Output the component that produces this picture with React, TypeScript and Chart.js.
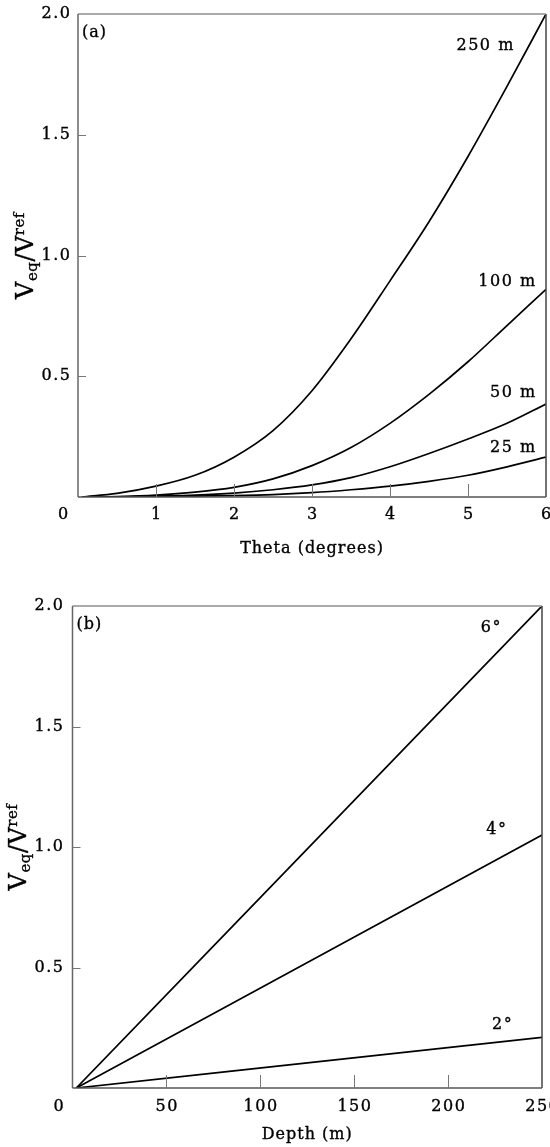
import { useEffect, useRef } from "react";
import { Chart, registerables } from "chart.js";
Chart.register(...registerables);

// ---------- Panel (a): Veq/Vref vs theta, one curve per depth ----------
const thetaDeg = [0.05, 0.5, 1, 1.5, 2, 2.5, 3, 3.5, 4, 4.5, 5, 5.5, 6];
const veq250m = [0, 0.015, 0.045, 0.09, 0.165, 0.275, 0.44, 0.655, 0.895, 1.14, 1.41, 1.7, 2.0];
const veq100m = [0, 0.002, 0.008, 0.02, 0.04, 0.075, 0.13, 0.205, 0.305, 0.425, 0.56, 0.71, 0.86];
const veq50m = [0, 0.001, 0.004, 0.008, 0.016, 0.03, 0.05, 0.08, 0.125, 0.18, 0.24, 0.305, 0.385];
const veq25m = [0, 0.0005, 0.002, 0.004, 0.006, 0.01, 0.018, 0.03, 0.045, 0.065, 0.09, 0.125, 0.165];
const depthNames = ["250 m", "100 m", "50 m", "25 m"];
const thetaTicks = [0, 1, 2, 3, 4, 5, 6];

// ---------- Panel (b): Veq/Vref vs depth, one line per angle ----------
const depthM = [2, 250];
const veq6deg = [0, 2.0];
const veq4deg = [0, 1.05];
const veq2deg = [0, 0.21];
const angleNames = ["6°", "4°", "2°"];
const depthTicks = [0, 50, 100, 150, 200, 250];

const ratioTicks = [0.5, 1.0, 1.5, 2.0];

const FONT = "'DejaVu Serif', 'Liberation Serif', serif";

type Lbl = { text: string; x: number; y: number; align: CanvasTextAlign };
type Spec = {
  xTicks: number[];
  yTicks: number[];
  xTitle: string;
  tag: string;
  labels: Lbl[];
  yTitleX: number;
  yTickGap: number;
  zeroShift: number;
  xLabelDy: number;
  xTitleDy: number;
};

function txt(ctx: CanvasRenderingContext2D, s: string, x: number, y: number) {
  ctx.fillText(s, x, y);
  ctx.strokeText(s, x, y);
}

function drawYTitle(ctx: CanvasRenderingContext2D, bx: number, cy: number) {
  const parts = [
    { t: "V", s: 24, dy: 0 },
    { t: "eq", s: 15, dy: 4 },
    { t: "/V", s: 24, dy: 0 },
    { t: "ref", s: 15, dy: -9 },
  ];
  ctx.save();
  ctx.translate(bx, cy);
  ctx.rotate(-Math.PI / 2);
  (ctx as any).letterSpacing = "0.5px";
  ctx.textAlign = "left";
  ctx.textBaseline = "alphabetic";
  let total = 0;
  const widths = parts.map((p) => {
    ctx.font = `${p.s}px ${FONT}`;
    const w = ctx.measureText(p.t).width;
    total += w;
    return w;
  });
  let x = -total / 2;
  parts.forEach((p, i) => {
    ctx.font = `${p.s}px ${FONT}`;
    txt(ctx, p.t, x, p.dy);
    x += widths[i];
  });
  ctx.restore();
}

function decor(spec: Spec) {
  return {
    id: "decor",
    afterDraw(chart: any) {
      const { ctx, chartArea: a, scales } = chart;
      const xs = scales.x;
      const ys = scales.y;
      ctx.save();
      // frame
      ctx.lineCap = "butt";
      ctx.strokeStyle = "#aaaaaa";
      ctx.lineWidth = 2;
      ctx.beginPath();
      ctx.moveTo(a.left, a.top);
      ctx.lineTo(a.right, a.top);
      ctx.stroke();
      ctx.strokeStyle = "#666666";
      ctx.lineWidth = 1.5;
      ctx.beginPath();
      ctx.moveTo(a.left, a.top);
      ctx.lineTo(a.left, a.bottom);
      ctx.stroke();
      ctx.strokeStyle = "#444444";
      ctx.beginPath();
      ctx.moveTo(a.right, a.top);
      ctx.lineTo(a.right, a.bottom);
      ctx.stroke();
      ctx.strokeStyle = "#555555";
      ctx.beginPath();
      ctx.moveTo(a.left, a.bottom);
      ctx.lineTo(a.right, a.bottom);
      ctx.stroke();

      // inner tick marks
      ctx.strokeStyle = "#777777";
      ctx.lineWidth = 1;
      spec.xTicks.slice(1, -1).forEach((v) => {
        const px = Math.round(xs.getPixelForValue(v)) + 0.5;
        ctx.beginPath();
        ctx.moveTo(px, a.bottom);
        ctx.lineTo(px, a.bottom - 13);
        ctx.stroke();
      });
      spec.yTicks.slice(0, -1).forEach((v) => {
        const py = Math.round(ys.getPixelForValue(v)) + 0.5;
        ctx.beginPath();
        ctx.moveTo(a.left, py);
        ctx.lineTo(a.left + 8, py);
        ctx.stroke();
      });

      ctx.fillStyle = "#000000";
      ctx.strokeStyle = "#000000";
      ctx.lineWidth = 0.35;
      ctx.font = `16px ${FONT}`;
      ctx.letterSpacing = "1.5px";
      // x tick labels
      ctx.textAlign = "center";
      ctx.textBaseline = "middle";
      spec.xTicks.forEach((v, i) => {
        let px = xs.getPixelForValue(v);
        if (i === 0) px -= spec.zeroShift;
        txt(ctx, String(v), px + 0.75, a.bottom + spec.xLabelDy);
      });
      // y tick labels
      ctx.textAlign = "right";
      spec.yTicks.forEach((v) => {
        txt(ctx, v.toFixed(1), a.left - spec.yTickGap + 1.5, ys.getPixelForValue(v));
      });
      // x title
      ctx.letterSpacing = "1px";
      ctx.textAlign = "center";
      txt(ctx, spec.xTitle, (a.left + a.right) / 2, a.bottom + spec.xTitleDy);
      // panel tag
      ctx.textAlign = "left";
      txt(ctx, spec.tag, a.left + 4, a.top + 19);
      // curve labels
      ctx.letterSpacing = "1.5px";
      spec.labels.forEach((l) => {
        ctx.textAlign = l.align;
        txt(ctx, l.text, xs.getPixelForValue(l.x), ys.getPixelForValue(l.y));
      });
      ctx.letterSpacing = "0px";
      drawYTitle(ctx, spec.yTitleX, (a.top + a.bottom) / 2);
      ctx.restore();
    },
  };
}

function makeConfig(
  xs: number[],
  series: number[][],
  xmin: number,
  xmax: number,
  pad: { left: number; top: number; right: number },
  yWidth: number,
  xHeight: number,
  spec: Spec
): any {
  return {
    type: "line",
    data: {
      datasets: series.map((s) => ({
        data: xs.map((x, i) => ({ x, y: s[i] })),
        borderColor: "#000000",
        borderWidth: 1.7,
        pointRadius: 0,
        fill: false,
        cubicInterpolationMode: "monotone",
      })),
    },
    options: {
      responsive: false,
      animation: false,
      events: [],
      layout: { padding: { left: pad.left, top: pad.top, right: pad.right, bottom: 0 } },
      plugins: { legend: { display: false }, tooltip: { enabled: false } },
      scales: {
        x: {
          type: "linear",
          min: xmin,
          max: xmax,
          ticks: { display: false },
          grid: { display: false },
          border: { display: false },
          afterFit: (s: any) => {
            s.height = xHeight;
          },
        },
        y: {
          type: "linear",
          min: 0,
          max: 2,
          ticks: { display: false },
          grid: { display: false },
          border: { display: false },
          afterFit: (s: any) => {
            s.width = yWidth;
          },
        },
      },
    },
    plugins: [decor(spec)],
  };
}

export default function App() {
  const refA = useRef<HTMLCanvasElement>(null);
  const refB = useRef<HTMLCanvasElement>(null);

  useEffect(() => {
    const specA: Spec = {
      xTicks: thetaTicks,
      yTicks: ratioTicks,
      xTitle: "Theta (degrees)",
      tag: "(a)",
      labels: [
        { text: depthNames[0], x: 5.6, y: 1.87, align: "right" },
        { text: depthNames[1], x: 5.88, y: 0.89, align: "right" },
        { text: depthNames[2], x: 5.88, y: 0.43, align: "right" },
        { text: depthNames[3], x: 5.88, y: 0.203, align: "right" },
      ],
      yTitleX: 33,
      yTickGap: 8,
      zeroShift: 15,
      xLabelDy: 18,
      xTitleDy: 52,
    };
    const specB: Spec = {
      xTicks: depthTicks,
      yTicks: ratioTicks,
      xTitle: "Depth (m)",
      tag: "(b)",
      labels: [
        { text: angleNames[0], x: 223, y: 1.91, align: "center" },
        { text: angleNames[1], x: 226, y: 1.07, align: "center" },
        { text: angleNames[2], x: 229, y: 0.26, align: "center" },
      ],
      yTitleX: 26,
      yTickGap: 9.5,
      zeroShift: 14,
      xLabelDy: 19,
      xTitleDy: 47,
    };
    const a = new Chart(
      refA.current as HTMLCanvasElement,
      makeConfig(thetaDeg, [veq250m, veq100m, veq50m, veq25m], 0, 6, { left: 0, top: 14, right: 4 }, 78, 78, specA)
    );
    const b = new Chart(
      refB.current as HTMLCanvasElement,
      makeConfig(depthM, [veq6deg, veq4deg, veq2deg], 0, 250, { left: 0, top: 31, right: 8 }, 72.5, 59, specB)
    );
    return () => {
      a.destroy();
      b.destroy();
    };
  }, []);

  return (
    <div style={{ position: "absolute", left: 0, top: 0, width: 550, height: 1147, background: "#ffffff", overflow: "hidden" }}>
      <canvas ref={refA} width={550} height={575} style={{ position: "absolute", left: 0, top: 0 }} />
      <canvas ref={refB} width={550} height={572} style={{ position: "absolute", left: 0, top: 575 }} />
    </div>
  );
}
